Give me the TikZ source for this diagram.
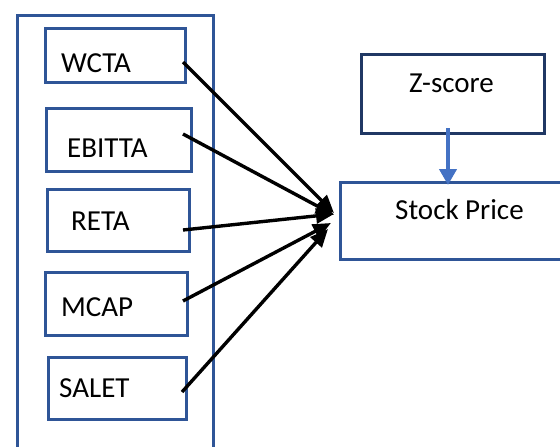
\documentclass[tikz,border=0pt]{standalone}
\usepackage{fontspec}
\setmainfont{Carlito}
\usetikzlibrary{arrows.meta}
\definecolor{boxblue}{HTML}{2F5597}
\definecolor{navy}{HTML}{203864}
\definecolor{arrblue}{HTML}{4472C4}
\begin{document}
\begin{tikzpicture}[x=1pt,y=-1pt,
  box/.style={draw=boxblue,line width=3.2pt,rectangle,inner sep=0pt},
  lbl/.style={anchor=base west,inner sep=0pt,font=\fontsize{29}{33}\selectfont},
  conn/.style={line width=3.4pt,-{Triangle[length=18pt,width=15pt]}},
]
\useasboundingbox (0,0) rectangle (560,447);
\fill[white] (0,0) rectangle (560,447);
% outer frame
\node[box,minimum width=196pt,minimum height=585pt] (outer) at (115.5,308) {};
% variable boxes
\node[box,minimum width=140pt,minimum height=54pt] (wcta) at (115.5,55.5) {};
\node[box,minimum width=145pt,minimum height=63pt] (ebitta) at (119,140) {};
\node[box,minimum width=142pt,minimum height=62pt] (reta) at (118.5,220.5) {};
\node[box,minimum width=142pt,minimum height=63pt] (mcap) at (116.5,304) {};
\node[box,minimum width=138pt,minimum height=62pt] (salet) at (117.5,388.5) {};
\node[lbl] (wctaT) at (61,72) {WCTA};
\node[lbl] (ebittaT) at (67,157) {EBITTA};
\node[lbl] (retaT) at (71,230) {RETA};
\node[lbl] (mcapT) at (61,316) {MCAP};
\node[lbl] (saletT) at (59,397) {SALET};
% right boxes
\node[draw=navy,line width=3.2pt,rectangle,inner sep=0pt,minimum width=183pt,minimum height=79pt] (zscore) at (453,94) {};
\node[lbl] (zscoreT) at (409,92) {Z-score};
\node[box,minimum width=258pt,minimum height=77pt] (stock) at (469.5,221) {};
\node[lbl] (stockT) at (395,219) {Stock Price};
% connector endpoints
\coordinate (s1) at (183,62);
\coordinate (s2) at (183,134);
\coordinate (s3) at (183,230);
\coordinate (s4) at (183,301);
\coordinate (s5) at (182,392);
\coordinate (t1) at (334,213);
\coordinate (t2) at (334,215);
\coordinate (t3) at (334,214);
\coordinate (t4) at (331,223);
\coordinate (t5) at (328,229);
\draw[conn] (s1) -- (t1);
\draw[conn] (s2) -- (t2);
\draw[conn] (s3) -- (t3);
\draw[conn] (s4) -- (t4);
\draw[conn] (s5) -- (t5);
\coordinate (zs) at (448,128);
\coordinate (zt) at (448,185);
\draw[draw=arrblue,line width=4.2pt,-{Triangle[length=16pt,width=17pt]}] (zs) -- (zt);
\end{tikzpicture}
\end{document}
